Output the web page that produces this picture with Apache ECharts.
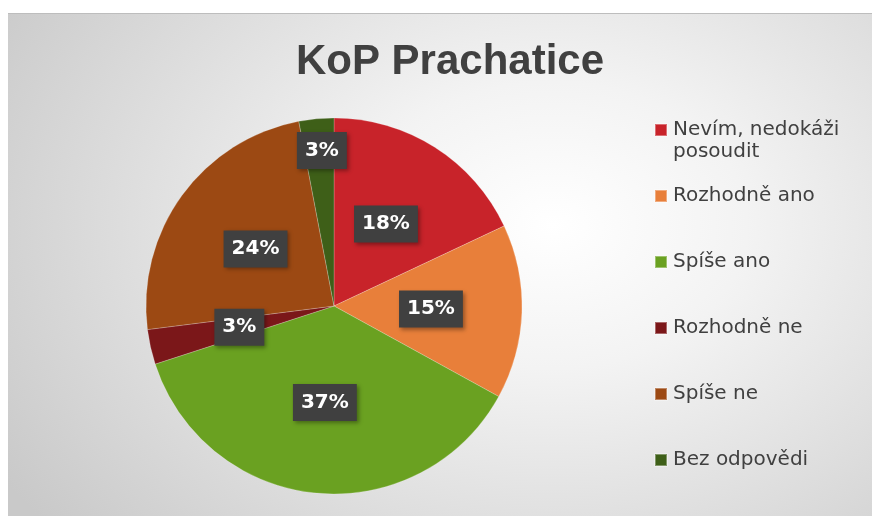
<!DOCTYPE html>
<html>
<head>
<meta charset="utf-8">
<script src="https://cdn.jsdelivr.net/npm/echarts@6/dist/echarts.min.js"></script>
<style>
  html, body { margin: 0; padding: 0; background: #fff; }
  #frame {
    position: absolute; left: 8px; top: 13px; width: 864px; height: 503px;
    border-top: 1px solid #bdbdbd;
    background: radial-gradient(ellipse 75% 95% at 63% 42%, #ffffff 0%, #f3f3f3 30%, #dedede 65%, #c9c9c9 100%);
  }
  #chart { position: absolute; left: 0; top: 0; width: 876px; height: 516px; }
</style>
</head>
<body>
<div id="frame"></div>
<div id="chart"></div>
<script>
// kategorie a hodnoty (%)
var categories = ['Nevím, nedokáži posoudit', 'Rozhodně ano', 'Spíše ano', 'Rozhodně ne', 'Spíše ne', 'Bez odpovědi'];
var values = [18, 15, 37, 3, 24, 3];
var colors = ['#c8232a', '#e87f3a', '#6aa121', '#7b1719', '#9c4913', '#3e5f18'];

var chart = echarts.init(document.getElementById('chart'));

var data = categories.map(function (name, i) {
  var item = { name: name, value: values[i], itemStyle: { color: colors[i] } };
  if (i === 5) {
    // popisek malé výseče posunutý ven
    item.label = { offset: [-3, -59] };
  }
  return item;
});

var option = {
  backgroundColor: 'transparent',
  title: {
    text: 'KoP Prachatice',
    left: 445,
    textAlign: 'center',
    top: 36,
    textStyle: {
      fontFamily: 'Liberation Sans',
      fontSize: 42,
      fontWeight: 'bold',
      color: '#404040'
    }
  },
  legend: {
    orient: 'vertical',
    left: 654,
    top: 97,
    padding: 0,
    itemWidth: 12,
    itemHeight: 12,
    itemGap: 0,
    icon: 'rect',
    textStyle: {
      fontFamily: 'DejaVu Sans',
      fontSize: 20,
      color: '#404040',
      lineHeight: 22,
      padding: [0, 0, 0, 1]
    },
    formatter: function (name) {
      if (name === categories[0]) {
        return ' \nNevím, nedokáži\nposoudit';
      }
      return ' \n' + name + '\n ';
    },
    data: categories
  },
  series: [{
    type: 'pie',
    center: [334, 306],
    radius: 188,
    startAngle: 90,
    clockwise: true,
    silent: true,
    itemStyle: {
      borderColor: 'rgba(255,255,255,0.35)',
      borderWidth: 0.6
    },
    label: {
      show: true,
      position: 'inside',
      formatter: '{d}%',
      fontFamily: 'DejaVu Sans',
      fontSize: 20,
      fontWeight: 'bold',
      color: '#ffffff',
      backgroundColor: '#404040',
      padding: [9, 8, 8, 8],
      shadowColor: 'rgba(0,0,0,0.35)',
      shadowBlur: 4,
      shadowOffsetX: 2,
      shadowOffsetY: 2
    },
    labelLine: { show: false },
    data: data
  }]
};

chart.setOption(option);
</script>
</body>
</html>
